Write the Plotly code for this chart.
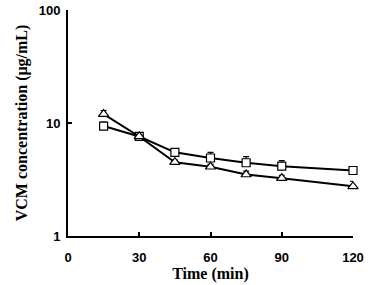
import plotly.graph_objects as go

time_min = [15, 30, 45, 60, 75, 90, 120]
square_vals = [9.4, 7.6, 5.5, 4.9, 4.45, 4.15, 3.8]
square_err = [0.8, 0.3, 0.35, 0.6, 0.58, 0.5, 0.15]
triangle_vals = [12.0, 7.6, 4.5, 4.1, 3.5, 3.25, 2.75]
triangle_err = [0.9, 0.3, 0.2, 0.2, 0.25, 0.2, 0.3]
zero_err = [0] * len(time_min)

fig = go.Figure()
fig.add_trace(go.Scatter(
    x=time_min, y=square_vals, mode="lines+markers", cliponaxis=False,
    line=dict(color="black", width=2),
    marker=dict(symbol="square", size=8, color="white", line=dict(color="black", width=1.2)),
    error_y=dict(type="data", array=square_err, arrayminus=zero_err, color="black", thickness=1.2, width=3),
    showlegend=False,
))
fig.add_trace(go.Scatter(
    x=time_min, y=triangle_vals, mode="lines+markers", cliponaxis=False,
    line=dict(color="black", width=2),
    marker=dict(symbol="triangle-up", size=9, color="white", line=dict(color="black", width=1.2)),
    error_y=dict(type="data", array=triangle_err, arrayminus=zero_err, color="black", thickness=1.2, width=3),
    showlegend=False,
))

tick_font = dict(family="Liberation Sans, Arial", size=13, weight="bold")

fig.update_layout(
    width=368, height=285,
    margin=dict(l=68, r=15, t=10, b=49, autoexpand=False),
    paper_bgcolor="white", plot_bgcolor="white",
    font=dict(family="Liberation Sans, Arial", size=13, color="black"),
)
fig.update_xaxes(
    range=[0, 120], tickvals=[0, 30, 60, 90, 120],
    ticks="inside", ticklen=4, tickcolor="black", tickwidth=1.5,
    showline=True, linecolor="black", linewidth=2, showgrid=False, zeroline=False,
    tickfont=tick_font, ticklabelstandoff=8,
    title=dict(text="<b>Time (min)</b>", font=dict(family="Liberation Serif, Times New Roman", size=16), standoff=2),
)
fig.update_yaxes(
    type="log", range=[0, 2], tickvals=[1, 10, 100], ticktext=["1", "10", "100"],
    ticks="inside", ticklen=4, tickcolor="black", tickwidth=1.5,
    showline=True, linecolor="black", linewidth=2, showgrid=False, zeroline=False,
    tickfont=tick_font, ticklabelstandoff=3,
    title=dict(text="<b>VCM concentration (μg/mL)</b>", font=dict(family="Liberation Serif, Times New Roman", size=16), standoff=7),
)

fig.write_html("out.html", config={"displayModeBar": False},
               post_script="document.body.style.margin='0';document.body.style.overflow='hidden';")
